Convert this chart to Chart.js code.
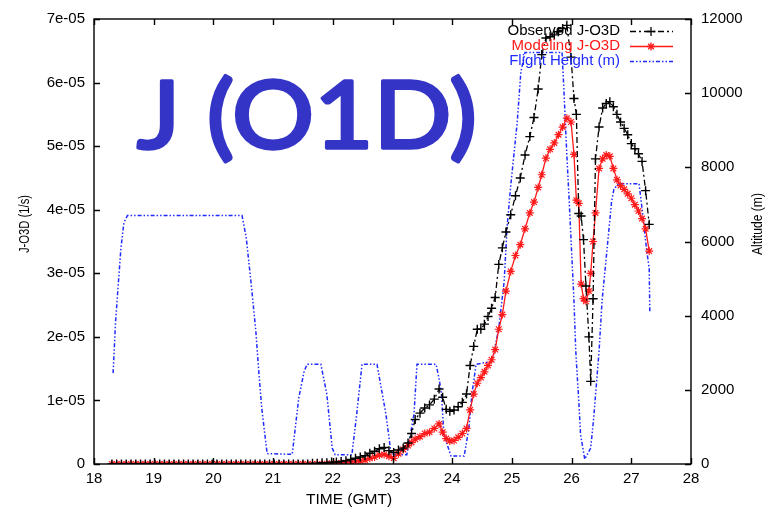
<!DOCTYPE html>
<html>
<head>
<meta charset="utf-8">
<script src="https://cdn.jsdelivr.net/npm/chart.js@4/dist/chart.umd.min.js"></script>
<style>
  html, body { margin: 0; padding: 0; background: #ffffff; }
  #wrap { width: 765px; height: 511px; position: relative; }
</style>
</head>
<body>
<div id="wrap"><canvas id="c"></canvas></div>
<script>
// Sample times (GMT hours) shared by the observed and modelled photolysis rates
const obsTime = [
  18.30,18.38,18.46,18.54,18.62,18.70,18.78,18.86,18.94,19.02,
  19.10,19.18,19.26,19.34,19.42,19.50,19.58,19.66,19.74,19.82,
  19.90,19.98,20.06,20.14,20.22,20.30,20.38,20.46,20.54,20.62,
  20.70,20.78,20.86,20.94,21.02,21.10,21.18,21.26,21.34,21.42,
  21.50,21.58,21.66,21.74,21.82,21.90,21.98,22.06,22.14,22.22,
  22.30,22.38,22.46,22.54,22.62,22.70,22.78,22.86,22.94,23.02,
  23.10,23.18,23.26,23.32,23.38,23.46,23.54,23.62,23.70,23.78,
  23.84,23.90,23.96,24.03,24.10,24.17,24.24,24.30,24.36,24.42,
  24.48,24.54,24.60,24.66,24.72,24.78,24.84,24.90,24.98,25.06,
  25.14,25.22,25.30,25.37,25.44,25.50,25.57,25.64,25.71,25.78,
  25.85,25.92,25.99,26.04,26.08,26.12,26.16,26.20,26.24,26.29,
  26.32,26.36,26.40,26.46,26.52,26.58,26.64,26.70,26.76,26.82,
  26.88,26.94,27.00,27.06,27.12,27.18,27.24,27.30
];

// Observed J-O3D (1/s)
const observed = [
  0,0,0,0,0,0,0,0,0,0,
  0,0,0,0,0,0,0,0,0,0,
  0,0,0,0,0,0,0,0,0,0,
  0,0,0,0,0,0,0,0,0,0,
  0,0,1e-7,1e-7,2e-7,2e-7,3e-7,3e-7,4e-7,5e-7,
  7e-7,9e-7,1.1e-6,1.3e-6,1.7e-6,2.0e-6,2.4e-6,2.6e-6,2.1e-6,1.8e-6,
  2.2e-6,2.5e-6,3.3e-6,4.8e-6,7.0e-6,8.0e-6,8.8e-6,9.3e-6,1.02e-5,1.18e-5,
  1.05e-5,8.6e-6,8.3e-6,8.5e-6,9.0e-6,9.7e-6,1.1e-5,1.55e-5,1.85e-5,2.12e-5,
  2.12e-5,2.2e-5,2.32e-5,2.45e-5,2.62e-5,3.14e-5,3.4e-5,3.65e-5,3.92e-5,4.22e-5,
  4.5e-5,4.86e-5,5.15e-5,5.45e-5,5.9e-5,6.44e-5,6.7e-5,6.72e-5,6.75e-5,6.8e-5,
  6.85e-5,6.9e-5,6.4e-5,5.75e-5,5.5e-5,3.94e-5,3.9e-5,3.53e-5,2.8e-5,2.0e-5,
  1.3e-5,2.6e-5,4.8e-5,5.3e-5,5.6e-5,5.67e-5,5.7e-5,5.62e-5,5.5e-5,5.38e-5,
  5.28e-5,5.18e-5,5.04e-5,4.96e-5,4.88e-5,4.76e-5,4.3e-5,3.77e-5
];

// Modelled J-O3D (1/s)
const modeled = [
  0,0,0,0,0,0,0,0,0,0,
  0,0,0,0,0,0,0,0,0,0,
  0,0,0,0,0,0,0,0,0,0,
  0,0,0,0,0,0,0,0,0,0,
  0,0,0,0,0,5e-8,1e-7,1e-7,1.5e-7,2e-7,
  3e-7,4e-7,5e-7,6e-7,9e-7,1.1e-6,1.4e-6,1.5e-6,1.2e-6,9e-7,
  1.6e-6,2.3e-6,2.9e-6,3.4e-6,3.9e-6,4.3e-6,4.8e-6,5.0e-6,5.6e-6,6.3e-6,
  5.0e-6,4.0e-6,3.6e-6,3.7e-6,4.2e-6,4.8e-6,5.6e-6,8.5e-6,1.1e-5,1.27e-5,
  1.36e-5,1.45e-5,1.55e-5,1.64e-5,1.8e-5,2.12e-5,2.35e-5,2.72e-5,3.03e-5,3.28e-5,
  3.45e-5,3.7e-5,3.95e-5,4.12e-5,4.35e-5,4.55e-5,4.81e-5,4.95e-5,5.05e-5,5.18e-5,
  5.3e-5,5.44e-5,5.38e-5,4.87e-5,4.15e-5,4.1e-5,2.83e-5,2.6e-5,2.56e-5,2.72e-5,
  3.0e-5,3.5e-5,3.95e-5,4.65e-5,4.8e-5,4.86e-5,4.84e-5,4.65e-5,4.47e-5,4.38e-5,
  4.32e-5,4.25e-5,4.18e-5,4.08e-5,3.98e-5,3.86e-5,3.7e-5,3.35e-5
];

// Aircraft altitude track (m)
const flightTime = [
  18.32,18.36,18.40,18.45,18.50,18.56,20.48,20.55,20.63,20.71,
  20.76,20.81,20.90,21.32,21.43,21.52,21.57,21.80,21.90,21.99,
  22.04,22.32,22.40,22.49,22.74,22.89,22.97,23.02,23.24,23.36,
  23.41,23.73,23.78,23.82,23.86,23.98,24.20,24.28,24.33,24.40,
  24.67,24.78,24.87,24.92,24.98,25.09,25.15,25.22,25.84,25.87,
  25.92,25.96,26.00,26.04,26.07,26.12,26.15,26.22,26.32,26.37,
  26.46,26.51,26.59,26.67,26.71,26.79,27.13,27.18,27.26,27.30,
  27.31
];
const flightAlt = [
  2450,3800,4700,5800,6500,6700,6700,6100,4900,3600,
  2500,1500,280,260,1780,2500,2690,2690,1880,430,
  250,250,1340,2690,2690,1340,350,250,250,1340,
  2690,2690,2300,1900,800,215,215,970,1880,2690,
  2770,3660,4920,6400,7500,9230,10570,11100,11100,10120,
  8340,7080,5730,4390,3040,1700,800,130,430,1240,
  3040,4390,5730,7080,7420,7560,7560,6890,5730,5280,
  4120
];

const timeTicks = [18,19,20,21,22,23,24,25,26,27,28];
const jTicks = [0,1e-5,2e-5,3e-5,4e-5,5e-5,6e-5,7e-5];
const altTicks = [0,2000,4000,6000,8000,10000,12000];
const seriesNames = ['Observed J-O3D', 'Modeling J-O3D', 'Flight Height (m)'];

const FONT = '"Liberation Sans", Arial, sans-serif';
const BLUE = '#1f2bff';
const RED = '#ff1a1a';

function fmtJ(v) {
  if (v === 0) return '0';
  return Math.round(v / 1e-5) + 'e-05';
}

const pairs = (xs, ys) => xs.map((x, i) => ({ x, y: ys[i] }));

// Vertical axis title, drawn bottom-to-top and fitted to a given length
function sideTitle(ctx, text, x, y, len) {
  ctx.save();
  ctx.translate(x, y);
  ctx.rotate(-Math.PI / 2);
  const w = ctx.measureText(text).width;
  ctx.scale(len / w, 1);
  ctx.fillText(text, 0, 0);
  ctx.restore();
}

// Inward ticks, frame, axis titles, in-plot legend and the large caption
const decor = {
  id: 'decor',
  afterDraw(chart) {
    const { ctx, chartArea: a, scales } = chart;
    const sx = scales.x, sy = scales.y, sy2 = scales.y2;
    ctx.save();
    ctx.strokeStyle = '#000';
    ctx.lineWidth = 1.4;
    ctx.strokeRect(a.left, a.top, a.right - a.left, a.bottom - a.top);
    ctx.beginPath();
    timeTicks.forEach(t => {
      const px = Math.round(sx.getPixelForValue(t)) + 0.5;
      ctx.moveTo(px, a.bottom); ctx.lineTo(px, a.bottom - 6);
      ctx.moveTo(px, a.top); ctx.lineTo(px, a.top + 6);
    });
    jTicks.forEach(v => {
      const py = Math.round(sy.getPixelForValue(v)) + 0.5;
      ctx.moveTo(a.left, py); ctx.lineTo(a.left + 6, py);
    });
    altTicks.forEach(v => {
      const py = Math.round(sy2.getPixelForValue(v)) + 0.5;
      ctx.moveTo(a.right, py); ctx.lineTo(a.right - 6, py);
    });
    ctx.stroke();

    // axis titles
    ctx.fillStyle = '#000';
    ctx.textAlign = 'center';
    ctx.textBaseline = 'middle';
    ctx.font = '15.5px ' + FONT;
    ctx.fillText('TIME (GMT)', 349, 500);
    ctx.font = '14px ' + FONT;
    sideTitle(ctx, 'J-O3D (1/s)', 25, 224, 58);
    sideTitle(ctx, 'Altitude (m)', 758, 224, 62);

    // legend
    const ds = chart.data.datasets;
    const rowsY = [31, 46, 61];
    const colors = ['#000', RED, BLUE];
    ctx.font = '15px ' + FONT;
    ctx.textAlign = 'right';
    rowsY.forEach((y, i) => {
      ctx.fillStyle = colors[i];
      ctx.fillText(seriesNames[i], 620, y);
      ctx.save();
      ctx.strokeStyle = ds[i].borderColor;
      ctx.lineWidth = ds[i].borderWidth;
      ctx.setLineDash(ds[i].borderDash || []);
      ctx.beginPath();
      ctx.moveTo(630, y + 0.5); ctx.lineTo(673, y + 0.5);
      ctx.stroke();
      ctx.setLineDash([]);
      if (ds[i].pointRadius > 0) {
        Chart.helpers.drawPoint(ctx, {
          pointStyle: ds[i].pointStyle,
          radius: ds[i].pointRadius,
          rotation: 0,
          borderWidth: ds[i].pointBorderWidth
        }, 651, y + 0.5);
      }
      ctx.restore();
    });

    // large caption
    const cap = 'J (O1D)';
    ctx.save();
    ctx.font = '94px Lato, "DejaVu Sans", sans-serif';
    ctx.textAlign = 'left';
    ctx.textBaseline = 'alphabetic';
    const w = ctx.measureText(cap).width;
    ctx.translate(137, 148);
    ctx.scale(340 / w, 1);
    ctx.fillStyle = '#3434c6';
    ctx.strokeStyle = '#3434c6';
    ctx.lineWidth = 3.5;
    ctx.lineJoin = 'round';
    ctx.fillText(cap, 0, 0);
    ctx.strokeText(cap, 0, 0);
    ctx.restore();
    ctx.restore();
  }
};

new Chart(document.getElementById('c'), {
  type: 'line',
  data: {
    datasets: [
      {
        label: seriesNames[0],
        data: pairs(obsTime, observed),
        yAxisID: 'y',
        borderColor: '#000',
        borderWidth: 1.3,
        borderDash: [6, 3, 2, 3],
        pointStyle: 'cross',
        pointRadius: 4.5,
        pointBorderWidth: 1.4,
        pointBorderColor: '#000',
        pointBackgroundColor: '#000',
        tension: 0
      },
      {
        label: seriesNames[1],
        data: pairs(obsTime, modeled),
        yAxisID: 'y',
        borderColor: RED,
        borderWidth: 1.3,
        pointStyle: 'star',
        pointRadius: 4,
        pointBorderWidth: 1.2,
        pointBorderColor: RED,
        pointBackgroundColor: RED,
        tension: 0
      },
      {
        label: seriesNames[2],
        data: pairs(flightTime, flightAlt),
        yAxisID: 'y2',
        borderColor: BLUE,
        borderWidth: 1.5,
        borderDash: [4, 2, 1.5, 2, 1.5, 2],
        pointRadius: 0,
        tension: 0
      }
    ]
  },
  options: {
    responsive: true,
    maintainAspectRatio: false,
    animation: false,
    layout: { padding: { top: 17, left: 0, right: 0, bottom: 0 } },
    plugins: { legend: { display: false }, title: { display: false }, tooltip: { enabled: false } },
    scales: {
      x: {
        type: 'linear',
        min: 18, max: 28,
        afterBuildTicks: s => { s.ticks = timeTicks.map(v => ({ value: v })); },
        afterFit: s => { s.height = 47; },
        grid: { display: false, drawTicks: false },
        border: { display: false },
        ticks: { color: '#000', font: { family: FONT, size: 15 }, padding: 6, maxRotation: 0, autoSkip: false }
      },
      y: {
        position: 'left',
        min: 0, max: 7e-5,
        afterBuildTicks: s => { s.ticks = jTicks.map(v => ({ value: v })); },
        afterFit: s => { s.width = 94; },
        grid: { display: false, drawTicks: false },
        border: { display: false },
        ticks: { color: '#000', font: { family: FONT, size: 15 }, padding: 9, callback: v => fmtJ(v) }
      },
      y2: {
        position: 'right',
        min: 0, max: 12000,
        afterBuildTicks: s => { s.ticks = altTicks.map(v => ({ value: v })); },
        afterFit: s => { s.width = 74; },
        grid: { display: false, drawTicks: false },
        border: { display: false },
        ticks: { color: '#000', font: { family: FONT, size: 15 }, padding: 10, callback: v => String(v) }
      }
    }
  },
  plugins: [decor]
});
</script>
</body>
</html>
